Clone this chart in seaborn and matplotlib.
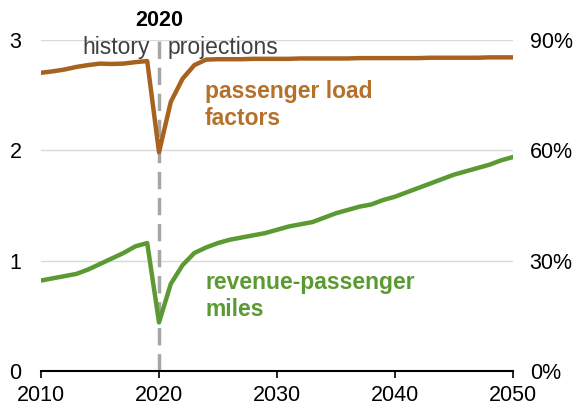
import numpy as np
import pandas as pd
import seaborn as sns
import matplotlib.pyplot as plt
from matplotlib.ticker import FuncFormatter

sns.set_theme(style="white")
plt.rcParams['font.family'] = ['Liberation Sans', 'DejaVu Sans']

# Data
years = list(range(2010, 2051))
rpm = [0.82, 0.84, 0.86, 0.88, 0.92, 0.97, 1.02, 1.07, 1.13, 1.16,
       0.44, 0.79, 0.96, 1.07, 1.12, 1.16, 1.19, 1.21, 1.23, 1.25,
       1.28, 1.31, 1.33, 1.35, 1.39, 1.43, 1.46, 1.49, 1.51, 1.55,
       1.58, 1.62, 1.66, 1.70, 1.74, 1.78, 1.81, 1.84, 1.87, 1.91, 1.94]
load = [81.1, 81.5, 82.0, 82.7, 83.2, 83.6, 83.5, 83.6, 84.0, 84.3,
        59.5, 73.2, 79.5, 83.2, 84.7, 84.8, 84.8, 84.8, 84.9, 84.9,
        84.9, 84.9, 85.0, 85.0, 85.0, 85.0, 85.0, 85.1, 85.1, 85.1,
        85.1, 85.1, 85.1, 85.2, 85.2, 85.2, 85.2, 85.2, 85.3, 85.3, 85.3]
left_ticks = [0, 1, 2, 3]
right_ticks = [0, 30, 60, 90]
x_ticks = [2010, 2020, 2030, 2040, 2050]

df = pd.DataFrame({"year": years, "rpm": rpm, "load": load})

brown = "#A8621F"
green = "#5B9A32"

fig = plt.figure(figsize=(5.8, 4.09), dpi=100)
ax = fig.add_axes([0.0707, 0.093, 0.8138, 0.809])
ax2 = ax.twinx()

sns.lineplot(data=df, x="year", y="rpm", ax=ax, color=green, linewidth=3.2)
sns.lineplot(data=df, x="year", y="load", ax=ax2, color=brown, linewidth=3.2)

ax.set_xlim(2010, 2050)
ax.set_ylim(0, 3)
ax2.set_ylim(0, 90)
ax.set_yticks(left_ticks)
ax2.set_yticks(right_ticks)
ax.set_xticks(x_ticks)
ax2.yaxis.set_major_formatter(FuncFormatter(lambda v, p: f"{v:.0f}%"))
ax.set_xlabel("")
ax.set_ylabel("")
ax2.set_ylabel("")

ax.yaxis.grid(True, color="#d9d9d9", linewidth=1)
ax.set_axisbelow(True)
for a in (ax, ax2):
    for s in ["left", "right", "top"]:
        a.spines[s].set_visible(False)
    a.spines["bottom"].set_color("black")
    a.spines["bottom"].set_linewidth(1.5)
ax2.spines["bottom"].set_visible(False)

ax.tick_params(axis="x", direction="out", length=5, width=1.2, color="black",
               labelsize=15.5, pad=5, bottom=True)
ax.tick_params(axis="y", length=0, labelsize=15.5, pad=14)
ax2.tick_params(axis="y", length=0, labelsize=15.5, pad=12)
for lbl in ax.get_xticklabels() + ax.get_yticklabels() + ax2.get_yticklabels():
    lbl.set_color("black")

# 2020 divider
ax.plot([2020, 2020], [0, 3.03], color="#a6a6a6", linewidth=2.5,
        linestyle=(0, (5, 2.5)), clip_on=False, zorder=1)
ax.text(2020, 3.08, "2020", ha="center", va="bottom", fontsize=15.5,
        fontweight="bold", color="black")
ax.text(2019.2, 2.93, "history", ha="right", va="center", fontsize=16.5, color="#404040")
ax.text(2020.7, 2.93, "projections", ha="left", va="center", fontsize=16.5, color="#404040")

ax.text(2023.9, 2.41, "passenger load\nfactors", ha="left", va="center",
        fontsize=16.5, fontweight="bold", color="#B5712C", linespacing=1.25)
ax.text(2023.9, 0.68, "revenue-passenger\nmiles", ha="left", va="center",
        fontsize=16.5, fontweight="bold", color=green, linespacing=1.2)

fig.savefig("out.png", dpi=100)
